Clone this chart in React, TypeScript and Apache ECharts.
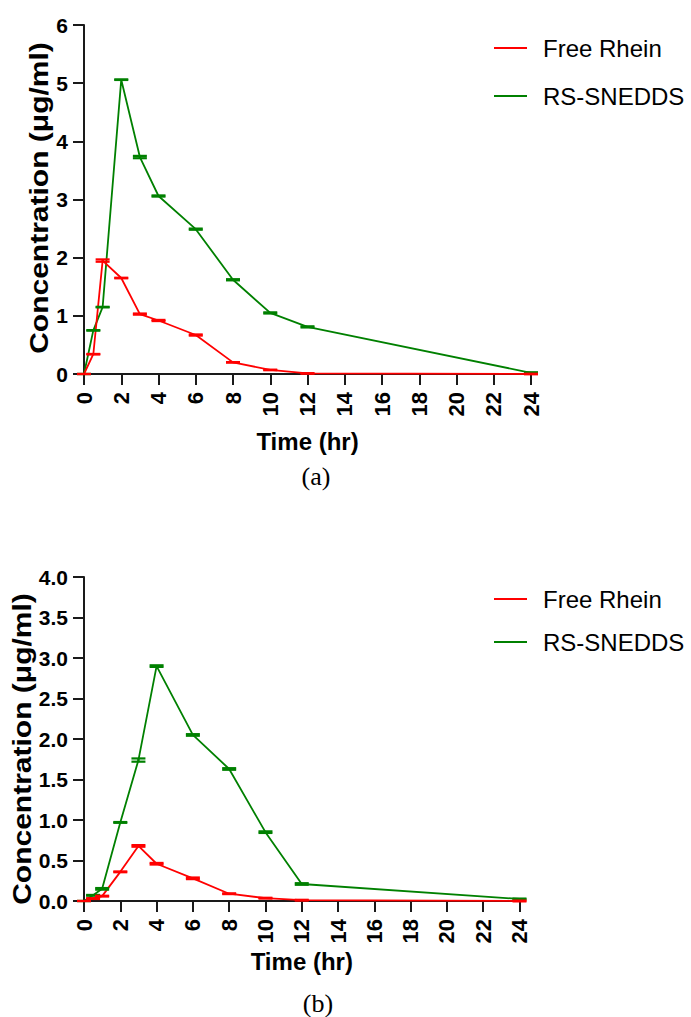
import React, { useEffect, useRef } from "react";
import * as echarts from "echarts";

const times = [0, 0.5, 1, 2, 3, 4, 6, 8, 10, 12, 24];
const xTicks = { min: 0, max: 24, interval: 2 };

// Panel (a)
const freeRheinA = [0, 0.34, 1.95, 1.65, 1.03, 0.92, 0.67, 0.2, 0.07, 0.01, 0];
const freeRheinAErr = [0, 0.005, 0.02, 0.005, 0.01, 0.01, 0.01, 0.005, 0.005, 0.005, 0.005];
const snedsA = [0, 0.75, 1.15, 5.06, 3.73, 3.06, 2.49, 1.62, 1.05, 0.81, 0.02];
const snedsAErr = [0, 0.005, 0.005, 0.005, 0.02, 0.01, 0.01, 0.01, 0.01, 0.01, 0.01];

// Panel (b)
const freeRheinB = [0, 0.03, 0.06, 0.36, 0.68, 0.46, 0.28, 0.09, 0.035, 0.01, 0];
const freeRheinBErr = [0, 0.005, 0.005, 0.005, 0.01, 0.01, 0.01, 0.005, 0.005, 0.005, 0.005];
const snedsB = [0, 0.07, 0.15, 0.97, 1.74, 2.9, 2.05, 1.63, 0.85, 0.21, 0.025];
const snedsBErr = [0, 0.005, 0.01, 0.005, 0.02, 0.01, 0.01, 0.01, 0.01, 0.01, 0.005];

const seriesNames = ["Free Rhein", "RS-SNEDDS"];
const yTitle = "Concentration (\u03bcg/ml)";
const xTitle = "Time (hr)";

const RED = "#ff0000";
const GREEN = "#008000";
const FONT = "Liberation Sans, Arial, sans-serif";
const SERIF = "Liberation Serif, Times New Roman, serif";
const AXIS = "#1a1a1a";

function pairs(vals: number[]) {
  return times.map((t, i) => [t, vals[i]]);
}
function errTriples(vals: number[], errs: number[]) {
  return times.map((t, i) => [t, vals[i], errs[i]]);
}

function errorSeries(name: string, color: string, idx: number, vals: number[], errs: number[]) {
  return {
    type: "custom",
    name,
    xAxisIndex: idx,
    yAxisIndex: idx,
    clip: false,
    data: errTriples(vals, errs),
    renderItem: (params: any, api: any) => {
      const t = api.value(0);
      const v = api.value(1);
      const e = api.value(2);
      const lo = api.coord([t, v - e]);
      const hi = api.coord([t, v + e]);
      const hw = 7;
      const st = { stroke: color, lineWidth: 2.2 };
      return {
        type: "group",
        children: [
          { type: "line", shape: { x1: lo[0], y1: lo[1], x2: hi[0], y2: hi[1] }, style: st },
          { type: "line", shape: { x1: hi[0] - hw, y1: hi[1], x2: hi[0] + hw, y2: hi[1] }, style: st },
          { type: "line", shape: { x1: lo[0] - hw, y1: lo[1], x2: lo[0] + hw, y2: lo[1] }, style: st },
        ],
      };
    },
    z: 3,
  };
}

function lineSeries(name: string, color: string, idx: number, vals: number[]) {
  return {
    type: "line",
    name,
    xAxisIndex: idx,
    yAxisIndex: idx,
    data: pairs(vals),
    symbol: "none",
    clip: false,
    lineStyle: { color, width: 1.8 },
    itemStyle: { color },
    z: 2,
  };
}

function xAxis(idx: number, gap: number) {
  return {
    type: "value",
    gridIndex: idx,
    min: xTicks.min,
    max: xTicks.max,
    interval: xTicks.interval,
    name: xTitle,
    nameLocation: "middle",
    nameGap: gap,
    nameTextStyle: { fontFamily: FONT, fontWeight: "bold", fontSize: 24, color: "#000" },
    axisLine: { show: true, onZero: false, lineStyle: { color: AXIS, width: 2 } },
    axisTick: { show: true, length: 11, lineStyle: { color: AXIS, width: 2 } },
    axisLabel: {
      rotate: 90,
      margin: 18,
      fontFamily: FONT,
      fontWeight: "bold",
      fontSize: 22,
      color: "#000",
    },
    splitLine: { show: false },
  };
}

function yAxis(idx: number, max: number, interval: number, decimals: number) {
  return {
    type: "value",
    gridIndex: idx,
    min: 0,
    max,
    interval,
    axisLine: { show: true, lineStyle: { color: AXIS, width: 2 } },
    axisTick: { show: true, length: 11, lineStyle: { color: AXIS, width: 2 } },
    axisLabel: {
      margin: 16,
      fontFamily: FONT,
      fontWeight: "bold",
      fontSize: 21,
      color: "#000",
      formatter: (v: number) => v.toFixed(decimals),
    },
    splitLine: { show: false },
  };
}

function legend(top: number, gap: number) {
  return {
    data: seriesNames,
    orient: "vertical",
    left: 489,
    top,
    itemGap: gap,
    itemWidth: 33,
    itemHeight: 2,
    icon: "rect",
    textStyle: {
      fontFamily: FONT,
      fontSize: 24,
      color: "#000",
      lineHeight: 24,
      padding: [0, 0, 0, 11],
    },
  };
}

export default function App() {
  const ref = useRef<HTMLDivElement>(null);
  useEffect(() => {
    if (!ref.current) return;
    const chart = echarts.init(ref.current, undefined, { renderer: "svg" });
    chart.setOption({
      animation: false,
      backgroundColor: "#fff",
      grid: [
        { left: 84, top: 25, width: 447, height: 349 },
        { left: 84, top: 577, width: 435.5, height: 324 },
      ],
      xAxis: [xAxis(0, 55), xAxis(1, 48)],
      yAxis: [yAxis(0, 6, 1, 0), yAxis(1, 4, 0.5, 1)],
      legend: [legend(31, 24), legend(582, 19)],
      series: [
        lineSeries(seriesNames[1], GREEN, 0, snedsA),
        errorSeries(seriesNames[1], GREEN, 0, snedsA, snedsAErr),
        lineSeries(seriesNames[0], RED, 0, freeRheinA),
        errorSeries(seriesNames[0], RED, 0, freeRheinA, freeRheinAErr),
        lineSeries(seriesNames[1], GREEN, 1, snedsB),
        errorSeries(seriesNames[1], GREEN, 1, snedsB, snedsBErr),
        lineSeries(seriesNames[0], RED, 1, freeRheinB),
        errorSeries(seriesNames[0], RED, 1, freeRheinB, freeRheinBErr),
      ],
      graphic: [
        {
          type: "text",
          x: 39,
          y: 198,
          rotation: Math.PI / 2,
          scaleX: 1.2,
          style: {
            text: yTitle,
            fontFamily: FONT,
            fontWeight: "bold",
            fontSize: 25,
            fill: "#000",
            align: "center",
            verticalAlign: "middle",
          },
        },
        {
          type: "text",
          x: 22,
          y: 749,
          rotation: Math.PI / 2,
          scaleX: 1.2,
          style: {
            text: yTitle,
            fontFamily: FONT,
            fontWeight: "bold",
            fontSize: 25,
            fill: "#000",
            align: "center",
            verticalAlign: "middle",
          },
        },
        {
          type: "text",
          x: 316,
          y: 476,
          style: {
            text: "(a)",
            fontFamily: SERIF,
            fontSize: 26,
            fill: "#000",
            align: "center",
            verticalAlign: "middle",
          },
        },
        {
          type: "text",
          x: 318,
          y: 1003,
          style: {
            text: "(b)",
            fontFamily: SERIF,
            fontSize: 26,
            fill: "#000",
            align: "center",
            verticalAlign: "middle",
          },
        },
      ],
    });
    return () => chart.dispose();
  }, []);
  return (
    <div
      ref={ref}
      style={{ position: "fixed", left: 0, top: 0, width: 691, height: 1017, background: "#fff" }}
    />
  );
}
